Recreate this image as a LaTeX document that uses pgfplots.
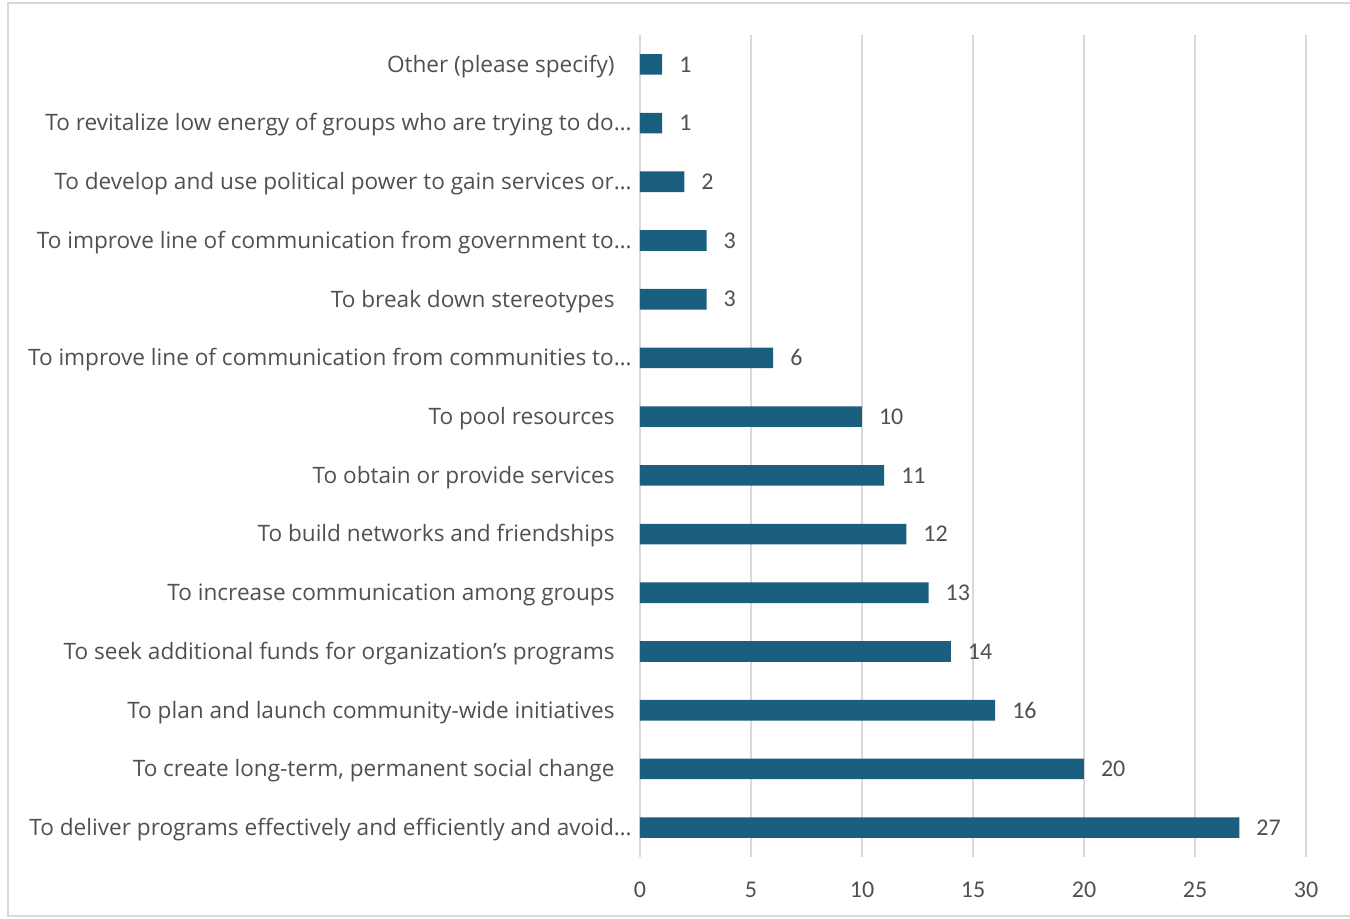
\documentclass[border=0pt]{standalone}
\usepackage{pgfplots}
\pgfplotsset{compat=1.18}
\usepackage{fontspec}
\setmainfont{Carlito}
\newfontfamily\labfont{Open Sans}
\definecolor{barc}{RGB}{26,94,128}
\definecolor{txt}{HTML}{505050}
\definecolor{grd}{HTML}{D9D9D9}
\newcommand\pad{\hspace*{8.5pt}}
\begin{document}
\begin{tikzpicture}[x=0.5pt,y=0.5pt]
\useasboundingbox (0,0) rectangle (1350,919);
\draw[grd, line width=1pt] (8,3) rectangle (1400,916);
\begin{axis}[
 at={(320pt,31pt)}, anchor=south west, scale only axis, width=333pt, height=411pt,
 xmin=0, xmax=30, ymin=-0.5, ymax=13.5,
 xbar, bar width=10.3pt,
 xtick={0,5,...,30}, ytick={0,...,13},
 yticklabels={
 {To deliver programs effectively and efficiently and avoid…},
 {To create long-term, permanent social change\pad},
 {To plan and launch community-wide initiatives\pad},
 {To seek additional funds for organization’s programs\pad},
 {To increase communication among groups\pad},
 {To build networks and friendships\pad},
 {To obtain or provide services\pad},
 {To pool resources\pad},
 {To improve line of communication from communities to…},
 {To break down stereotypes\pad},
 {To improve line of communication from government to…},
 {To develop and use political power to gain services or…},
 {To revitalize low energy of groups who are trying to do…},
 {Other (please specify)\pad}},
 xmajorgrids, grid style={grd, line width=0.75pt},
 axis line style={draw=none}, major tick length=0pt,
 tick label style={font=\fontsize{12}{14}\selectfont, text=txt},
 yticklabel style={font=\labfont\fontsize{11.3}{14}\selectfont, inner sep=0pt, xshift=-4pt, yshift=-1pt},
 xticklabel style={yshift=-9pt},
 /pgf/number format/assume math mode=true,
 nodes near coords,
 every node near coord/.append style={font=\fontsize{12}{14}\selectfont, text=txt, anchor=west, xshift=5pt},
]
\addplot[fill=barc, draw=none] coordinates {
 (27,0) (20,1) (16,2) (14,3) (13,4) (12,5) (11,6) (10,7) (6,8) (3,9) (3,10) (2,11) (1,12) (1,13)};
\end{axis}
\end{tikzpicture}
\end{document}
